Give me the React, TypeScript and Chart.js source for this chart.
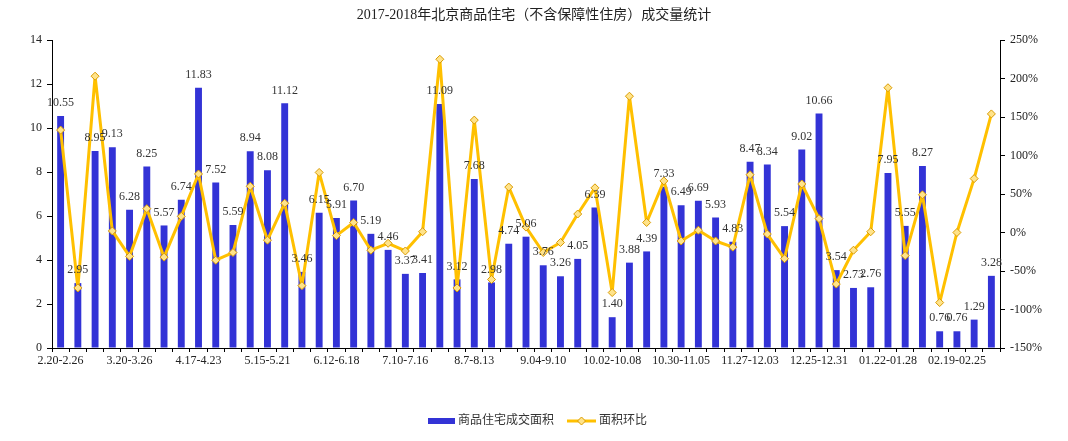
import React, { useEffect, useRef } from 'react';
import { Chart, registerables } from 'chart.js';

Chart.register(...registerables);

const TITLE = '2017-2018年北京商品住宅（不含保障性住房）成交量统计';
const SERIES_BAR = '商品住宅成交面积';
const SERIES_LINE = '面积环比';

const categories = [
  '2.20-2.26', '2.27-3.05', '3.06-3.12', '3.13-3.19', '3.20-3.26', '3.27-4.02', '4.03-4.09', '4.10-4.16',
  '4.17-4.23', '4.24-4.30', '5.01-5.07', '5.08-5.14', '5.15-5.21', '5.22-5.28', '5.29-6.04', '6.05-6.11',
  '6.12-6.18', '6.19-6.25', '6.26-7.02', '7.03-7.09', '7.10-7.16', '7.17-7.23', '7.24-7.30', '7.31-8.06',
  '8.7-8.13', '8.14-8.20', '8.21-8.27', '8.28-9.03', '9.04-9.10', '9.11-9.17', '9.18-9.24', '9.25-10.01',
  '10.02-10.08', '10.09-10.15', '10.16-10.22', '10.23-10.29', '10.30-11.05', '11.06-11.12', '11.13-11.19', '11.20-11.26',
  '11.27-12.03', '12.04-12.10', '12.11-12.17', '12.18-12.24', '12.25-12.31', '01.01-01.07', '01.08-01.14', '01.15-01.21',
  '01.22-01.28', '01.29-02.04', '02.05-02.11', '02.12-02.18', '02.19-02.25', '02.26-03.04', '03.05-03.11',
];

const areaValues = [
  10.55, 2.95, 8.95, 9.13, 6.28, 8.25, 5.57, 6.74, 11.83, 7.52, 5.59, 8.94, 8.08, 11.12, 3.46, 6.15,
  5.91, 6.70, 5.19, 4.46, 3.37, 3.41, 11.09, 3.12, 7.68, 2.98, 4.74, 5.06, 3.76, 3.26, 4.05, 6.39,
  1.40, 3.88, 4.39, 7.33, 6.49, 6.69, 5.93, 4.83, 8.47, 8.34, 5.54, 9.02, 10.66, 3.54, 2.73, 2.76,
  7.95, 5.55, 8.27, 0.76, 0.76, 1.29, 3.28,
];

const ratioValues = [
  133, -72, 203, 2, -31, 31, -32, 21, 76, -36, -26, 60, -10, 38, -69, 78,
  -4, 13, -23, -14, -24, 1, 225, -72, 146, -61, 59, 7, -26, -13, 24, 58,
  -78, 177, 13, 67, -11, 3, -11, -19, 75, -2, -34, 63, 18, -67, -23, 1,
  188, -30, 49, -91, 0, 70, 154,
];

const FONT = "'Liberation Serif', 'Noto Sans CJK SC', serif";
const BAR_COLOR = '#3333D6';
const LINE_COLOR = '#FFC000';

export default function App() {
  const ref = useRef<HTMLCanvasElement | null>(null);

  useEffect(() => {
    document.body.style.margin = '0';
    const canvas = ref.current;
    if (!canvas) return;

    const overlay = {
      id: 'overlay',
      afterDatasetsDraw(chart: any) {
        const ctx = chart.ctx;
        const meta = chart.getDatasetMeta(0);
        ctx.save();
        ctx.font = `12px ${FONT}`;
        ctx.fillStyle = '#333';
        ctx.textAlign = 'center';
        ctx.textBaseline = 'middle';
        meta.data.forEach((bar: any, i: number) => {
          ctx.fillText(areaValues[i].toFixed(2), bar.x, bar.y - 13);
        });
        ctx.restore();
      },
      afterDraw(chart: any) {
        const ctx = chart.ctx;
        ctx.save();
        ctx.fillStyle = '#222';
        ctx.textAlign = 'center';
        ctx.textBaseline = 'middle';
        ctx.font = `14px ${FONT}`;
        ctx.fillText(TITLE, 534, 15);

        // legend
        const ly = 421;
        ctx.fillStyle = BAR_COLOR;
        ctx.fillRect(428, ly - 3, 27, 6);
        ctx.font = `12px ${FONT}`;
        ctx.fillStyle = '#333';
        ctx.textAlign = 'left';
        ctx.fillText(SERIES_BAR, 458, ly);

        ctx.strokeStyle = LINE_COLOR;
        ctx.lineWidth = 3;
        ctx.beginPath();
        ctx.moveTo(567, ly);
        ctx.lineTo(596, ly);
        ctx.stroke();
        ctx.beginPath();
        ctx.moveTo(581.5, ly - 4);
        ctx.lineTo(585.5, ly);
        ctx.lineTo(581.5, ly + 4);
        ctx.lineTo(577.5, ly);
        ctx.closePath();
        ctx.fillStyle = '#FFE38A';
        ctx.fill();
        ctx.lineWidth = 1;
        ctx.strokeStyle = '#D99A00';
        ctx.stroke();
        ctx.fillStyle = '#333';
        ctx.fillText(SERIES_LINE, 599, ly);
        ctx.restore();
      },
    };

    const tickFont = { family: FONT, size: 12 };

    const chart = new Chart(canvas, {
      data: {
        labels: categories,
        datasets: [
          {
            type: 'bar',
            label: SERIES_BAR,
            data: areaValues,
            backgroundColor: BAR_COLOR,
            borderWidth: 0,
            barPercentage: 0.8,
            categoryPercentage: 0.5,
            yAxisID: 'y',
            order: 2,
          },
          {
            type: 'line',
            label: SERIES_LINE,
            data: ratioValues,
            borderColor: LINE_COLOR,
            borderWidth: 3,
            borderJoinStyle: 'round',
            borderCapStyle: 'round',
            tension: 0,
            pointStyle: 'rectRot',
            pointRadius: 4,
            pointBackgroundColor: '#FFE38A',
            pointBorderColor: '#D99A00',
            pointBorderWidth: 1,
            yAxisID: 'y1',
            order: 1,
          },
        ],
      } as any,
      options: {
        responsive: false,
        animation: false,
        layout: { padding: { top: 40, bottom: 68, left: 0, right: 0 } },
        plugins: {
          legend: { display: false },
          title: { display: false },
          tooltip: { enabled: false },
        },
        scales: {
          x: {
            offset: true,
            grid: {
              display: true,
              drawOnChartArea: false,
              drawTicks: true,
              tickLength: 4,
              color: '#000',
              offset: true,
            },
            border: { display: true, color: '#000' },
            ticks: {
              autoSkip: false,
              maxRotation: 0,
              minRotation: 0,
              padding: 2,
              color: '#222',
              font: tickFont,
              callback: (_v: any, i: number) => (i % 4 === 0 ? categories[i] : ''),
            },
            afterFit: (s: any) => {
              s.height = 25;
            },
          },
          y: {
            position: 'left',
            min: 0,
            max: 14,
            ticks: { stepSize: 2, padding: 5, color: '#222', font: tickFont },
            grid: { drawOnChartArea: false, drawTicks: true, tickLength: 5, color: '#000' },
            border: { display: true, color: '#000' },
            afterFit: (s: any) => {
              s.width = 52;
            },
          },
          y1: {
            position: 'right',
            min: -150,
            max: 250,
            ticks: {
              stepSize: 50,
              padding: 5,
              color: '#222',
              font: tickFont,
              callback: (v: any) => `${v}%`,
            },
            grid: { drawOnChartArea: false, drawTicks: true, tickLength: 5, color: '#000' },
            border: { display: true, color: '#000' },
            afterFit: (s: any) => {
              s.width = 68;
            },
          },
        },
      } as any,
      plugins: [overlay],
    });

    return () => chart.destroy();
  }, []);

  return (
    <div style={{ width: 1068, height: 441 }}>
      <canvas ref={ref} width={1068} height={441} style={{ width: 1068, height: 441, display: 'block' }} />
    </div>
  );
}
